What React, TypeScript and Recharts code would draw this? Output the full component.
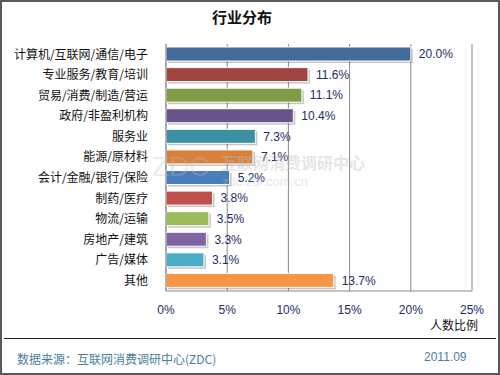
import React from "react";
import { Bar, BarChart, CartesianGrid, Cell, LabelList, XAxis, YAxis } from "recharts";

const industries = [
  "计算机/互联网/通信/电子",
  "专业服务/教育/培训",
  "贸易/消费/制造/营运",
  "政府/非盈利机构",
  "服务业",
  "能源/原材料",
  "会计/金融/银行/保险",
  "制药/医疗",
  "物流/运输",
  "房地产/建筑",
  "广告/媒体",
  "其他",
];
const shares = [20.0, 11.6, 11.1, 10.4, 7.3, 7.1, 5.2, 3.8, 3.5, 3.3, 3.1, 13.7];
const barColors = [
  "#426A9B", "#A14542", "#809C48", "#69538A", "#3C8FA4", "#D8813D",
  "#4A7EBB", "#C0504D", "#9BBB59", "#8064A2", "#4BACC6", "#F79646",
];
const xTicks = [0, 5, 10, 15, 20, 25];

const rows = industries.map((name, i) => ({ name, v: shares[i] }));

const cjk = '"Noto Sans CJK SC", "Noto Sans", sans-serif';
const latin = '"Liberation Sans", Arial, sans-serif';

function ShadowBar(props: any) {
  const { x, y, width, height, fill } = props;
  if (!width || width <= 0) return null;
  return (
    <g>
      <rect x={x + 2} y={y + 2} width={width} height={height} fill="rgba(0,0,0,0.22)" />
      <rect x={x} y={y} width={width} height={height} fill={fill} stroke="#fff" strokeWidth={1} />
    </g>
  );
}

export default function App() {
  return (
    <div style={{ position: "absolute", left: 0, top: 0, width: 500, height: 375, background: "#fff" }}>
      <div
        style={{
          position: "absolute", left: 0, top: 6, width: 484, textAlign: "center",
          fontFamily: cjk, fontWeight: "bold", fontSize: 15, color: "#111",
        }}
      >
        行业分布
      </div>
      <BarChart
        width={500}
        height={375}
        data={rows}
        layout="vertical"
        barSize={14}
        margin={{ top: 44, right: 28, left: 0, bottom: 54 }}
      >
        <CartesianGrid horizontal={false} stroke="#8a8a8a" />
        <XAxis
          type="number"
          domain={[0, 25]}
          ticks={xTicks}
          height={30}
          tickFormatter={(v) => `${v}%`}
          axisLine={{ stroke: "#8a8a8a" }}
          tickLine={false}
          tickMargin={8}
          tick={{ fontSize: 12, fill: "#1d2b63", fontFamily: latin }}
        />
        <YAxis
          type="category"
          dataKey="name"
          width={166}
          axisLine={{ stroke: "#8a8a8a" }}
          tickLine={false}
          tickMargin={12}
          interval={0}
          tick={{ fontSize: 12, fill: "#111", fontFamily: cjk }}
        />
        <Bar dataKey="v" isAnimationActive={false} shape={ShadowBar}>
          {rows.map((r, i) => (
            <Cell key={r.name} fill={barColors[i]} />
          ))}
          <LabelList
            dataKey="v"
            position="right"
            offset={8}
            formatter={(v: any) => `${Number(v).toFixed(1)}%`}
            style={{ fontSize: 12, fill: "#1d2b63", fontFamily: latin }}
          />
        </Bar>
      </BarChart>
      {/* watermark */}
      <div style={{ position: "absolute", left: 152, top: 151, fontFamily: latin, fontSize: 28, color: "rgba(190,190,190,0.3)" }}>
        ZDC
      </div>
      <div style={{ position: "absolute", left: 221, top: 150, fontFamily: cjk, fontSize: 16, fontWeight: "bold", color: "rgba(190,190,190,0.4)" }}>
        互联网消费调研中心
      </div>
      <div style={{ position: "absolute", left: 222, top: 174, fontFamily: latin, fontSize: 13, color: "rgba(190,190,190,0.4)" }}>
        zdc.zol.com.cn
      </div>
      <div style={{ position: "absolute", left: 430, top: 316, fontFamily: cjk, fontSize: 12, color: "#111" }}>
        人数比例
      </div>
      <div style={{ position: "absolute", left: 4, top: 338, width: 492, height: 1, background: "#222" }} />
      <div style={{ position: "absolute", left: 17, top: 350, fontFamily: cjk, fontSize: 12, color: "#4a7e9a" }}>
        数据来源：互联网消费调研中心(ZDC)
      </div>
      <div style={{ position: "absolute", left: 424, top: 350, fontFamily: latin, fontSize: 12, color: "#4a7e9a" }}>
        2011.09
      </div>
      <div
        style={{
          position: "absolute", left: 0, top: 0, width: 500, height: 375, boxSizing: "border-box",
          border: "2px solid #5a5a5a", pointerEvents: "none",
        }}
      />
    </div>
  );
}
